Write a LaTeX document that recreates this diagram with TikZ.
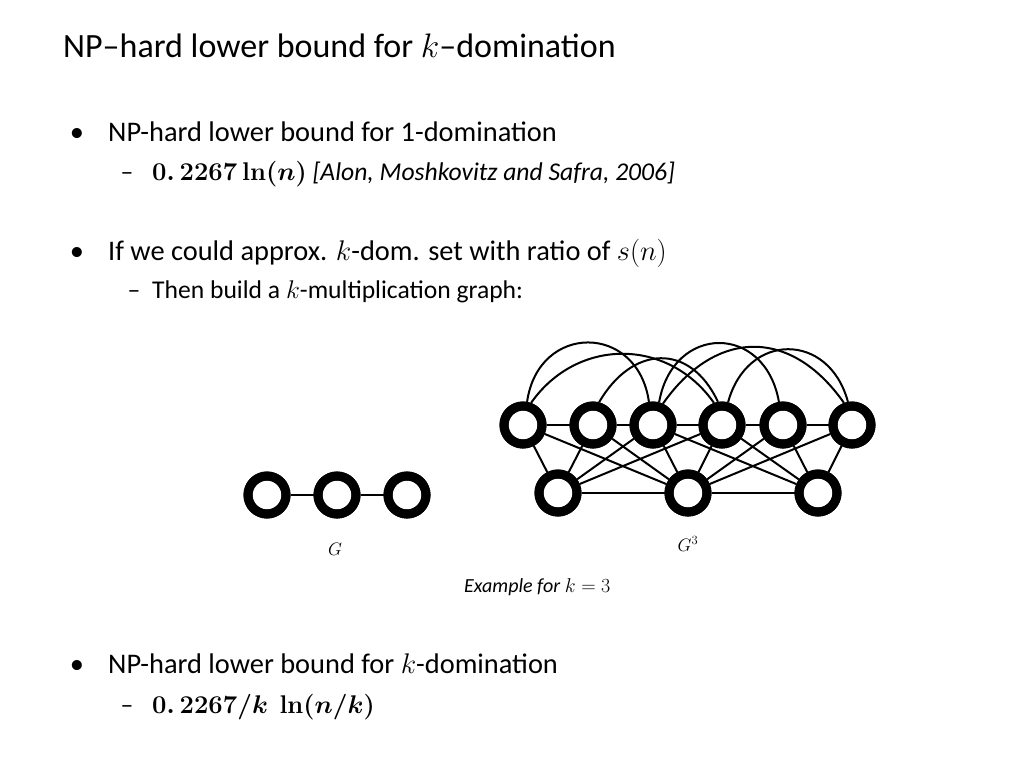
\RequirePackage{fix-cm}
\documentclass[tikz,border=0pt]{standalone}
\usepackage[no-math]{fontspec}
\setmainfont{Carlito}
\usepackage{amsmath}
\begin{document}
\begin{tikzpicture}[x=1pt,y=1pt,
  titletxt/.style={anchor=base west, inner sep=0, font=\fontsize{34}{40}\selectfont},
  bultxt/.style={anchor=base west, inner sep=0, font=\fontsize{28.4}{34}\selectfont},
  subtxt/.style={anchor=base west, inner sep=0, font=\fontsize{25.6}{30}\selectfont},
  bulmark/.style={anchor=base, inner sep=0, font=\fontsize{28.4}{34}\selectfont},
  submark/.style={anchor=base, inner sep=0, font=\fontsize{25.6}{30}\selectfont},
  captxt/.style={anchor=base, inner sep=0, font=\fontsize{18}{22}\selectfont},
  vtx/.style={circle, draw, line width=9pt, minimum size=38pt, inner sep=0pt, fill=white},
  ring/.style={line width=9pt},
  gedge/.style={line width=2pt},
  garc/.style={line width=2pt}
]
\useasboundingbox (0,0) rectangle (1024,-768);

% texts
\node[titletxt] (title) at (63,-58) {NP–hard lower bound for $k$–domination};
\node[bulmark] (b1m) at (77,-141) {\textbullet};
\node[bultxt] (b1) at (108,-141) {NP-hard lower bound for 1-domination};
\node[submark] (s1m) at (127,-180) {–};
\node[subtxt] (s1) at (152,-180) {{\boldmath$0.\,2267\,\mathbf{ln}(n)$} \textit{[Alon, Moshkovitz and Safra, 2006]}};
\node[bulmark] (b2m) at (77,-260) {\textbullet};
\node[bultxt] (b2) at (108,-260) {If we could approx. $k$-dom. set with ratio of $s(n)$};
\node[submark] (s2m) at (134,-298) {–};
\node[subtxt] (s2) at (152,-298) {Then build a $k$-multiplication graph:};
\node[anchor=base west, inner sep=0, font=\fontsize{20}{24}\selectfont] (ex) at (464,-592) {\textit{Example for} $k=3$};
\node[bulmark] (b3m) at (77,-673) {\textbullet};
\node[bultxt] (b3) at (108,-673) {NP-hard lower bound for $k$-domination};
\node[submark] (s3m) at (127,-713) {–};
\node[subtxt] (s3) at (152,-713) {{\boldmath$0.\,2267/k\ \ \mathbf{ln}(n/k)$}};

% graph G
\node[vtx] (g1) at (267,-495) {};
\node[vtx] (g2) at (337,-495) {};
\node[vtx] (g3) at (407,-495) {};
\draw[gedge] (g1) -- (g2);
\draw[gedge] (g2) -- (g3);
\node[captxt] (gl) at (335,-555) {$G$};

% graph G^3
\node[vtx] (t1) at (523,-425) {};
\node[vtx] (t2) at (593,-425) {};
\node[vtx] (t3) at (653,-425) {};
\node[vtx] (t4) at (722,-425) {};
\node[vtx] (t5) at (783,-425) {};
\node[vtx] (t6) at (852,-425) {};
\node[vtx] (u1) at (558,-493) {};
\node[vtx] (u2) at (688,-493) {};
\node[vtx] (u3) at (818,-493) {};
\node[captxt] (g3l) at (688,-551) {$G^3$};

\draw[gedge] (t1) -- (t2);
\draw[gedge] (t2) -- (t3);
\draw[gedge] (t3) -- (t4);
\draw[gedge] (t4) -- (t5);
\draw[gedge] (t5) -- (t6);
\draw[gedge] (u1) -- (u2);
\draw[gedge] (u2) -- (u3);
\foreach \a in {t1,t2,t3,t4} \draw[gedge] (u1) -- (\a);
\foreach \a in {t1,t2,t3,t4,t5,t6} \draw[gedge] (u2) -- (\a);
\foreach \a in {t3,t4,t5,t6} \draw[gedge] (u3) -- (\a);

\draw[garc] (t1.80) .. controls +(82:80) and +(98:80) .. (t3.100);
\draw[garc] (t1.70) .. controls +(55:80) and +(125:80) .. (t4.110);
\draw[garc] (t2.75) .. controls +(60:66) and +(115:66) .. (t4.100);
\draw[garc] (t3.75) .. controls +(80:80) and +(100:80) .. (t5.100);
\draw[garc] (t3.65) .. controls +(55:92) and +(125:92) .. (t6.110);
\draw[garc] (t4.75) .. controls +(75:73) and +(105:73) .. (t6.100);

% redraw vertex rings on top
\foreach \a in {t1,t2,t3,t4,t5,t6,u1,u2,u3,g1,g2,g3} \draw[ring] (\a.center) circle (19pt);
\end{tikzpicture}
\end{document}
